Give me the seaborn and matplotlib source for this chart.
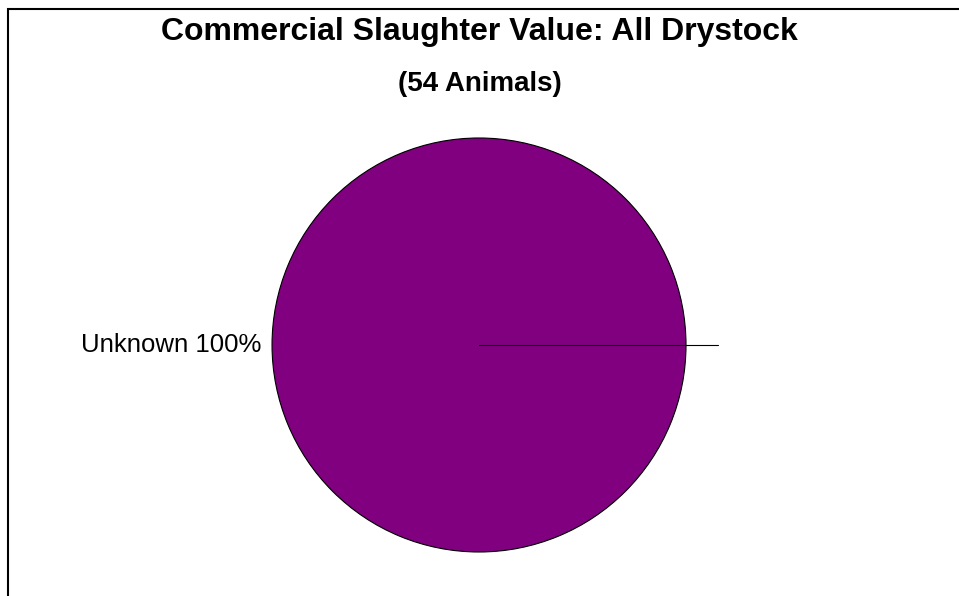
import seaborn as sns
import matplotlib.pyplot as plt
import numpy as np
from matplotlib.patches import Rectangle

categories = ['Unknown']
values = [54]
title = 'Commercial Slaughter Value: All Drystock'
subtitle = '(54 Animals)'

sns.set_theme(style='white')
plt.rcParams['font.family'] = ['Liberation Sans', 'DejaVu Sans']
plt.rcParams['text.color'] = 'black'

fig = plt.figure(figsize=(9.59, 5.96), dpi=100)
ax = fig.add_axes([0.2297, -0.013, 0.5396, 0.8683])

total = sum(values)
labels = [f'{c} {v / total * 100:.0f}%' for c, v in zip(categories, values)]
wedges, texts = ax.pie(values, labels=labels, colors=['#800080'], startangle=0,
                       counterclock=True, labeldistance=1.05,
                       wedgeprops=dict(edgecolor='black', linewidth=0.8),
                       textprops=dict(fontsize=18.5, color='black'))
texts[0].set_horizontalalignment('right')
texts[0].set_verticalalignment('center')

# slice boundary line, drawn past the rim like the original
ang = np.deg2rad(wedges[0].theta1)
ax.plot([0, 1.155 * np.cos(ang)], [0, 1.155 * np.sin(ang)], color='black', lw=0.8, clip_on=False)

ax.set_xlim(-1.25, 1.25)
ax.set_ylim(-1.25, 1.25)
ax.set_aspect('auto')
ax.axis('off')

fig.text(0.5, 1 - 32 / 596, title, ha='center', va='center', fontsize=23, fontweight='bold', color='black')
fig.text(0.5, 1 - 84 / 596, subtitle, ha='center', va='center', fontsize=20, fontweight='bold', color='black')

fig.patches.append(Rectangle((8 / 959, -0.1), 1.2, 1 - 9 / 596 + 0.1, transform=fig.transFigure,
                             fill=False, edgecolor='black', linewidth=1.5))

fig.savefig('out.png', dpi=100)
